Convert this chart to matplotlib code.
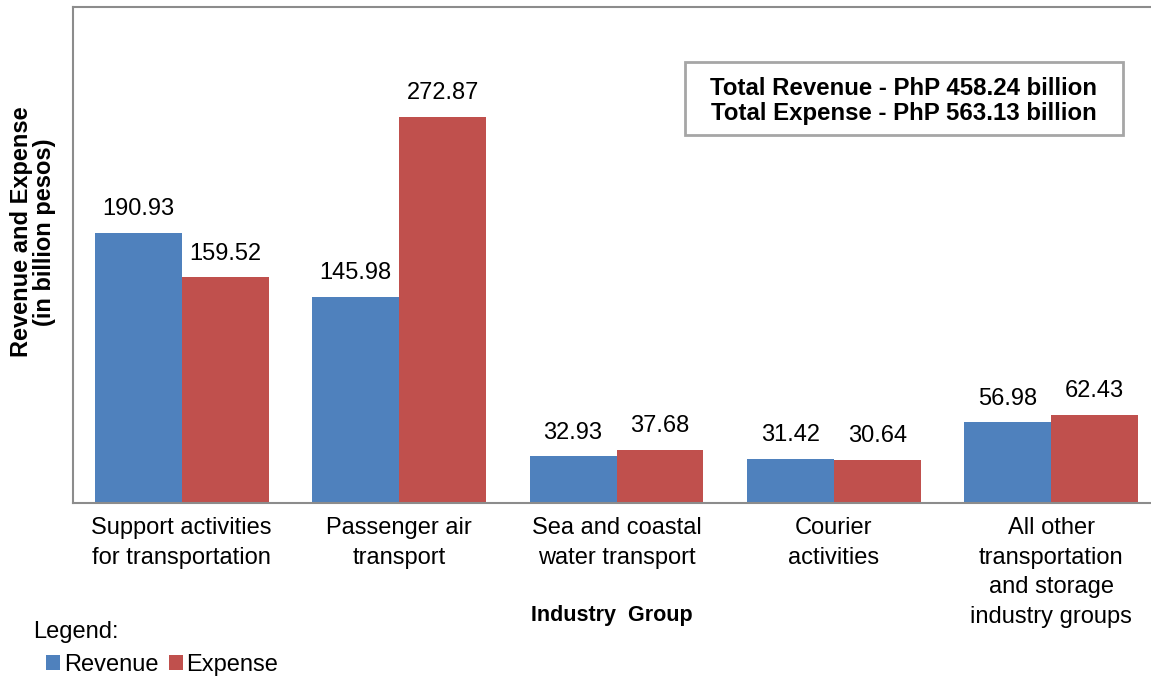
import matplotlib
matplotlib.use("Agg")
import matplotlib.pyplot as plt
from matplotlib.patches import Rectangle
import numpy as np

plt.rcParams['font.family'] = ['Liberation Sans', 'DejaVu Sans']

categories = ["Support activities\nfor transportation", "Passenger air\ntransport",
              "Sea and coastal\nwater transport", "Courier\nactivities",
              "All other\ntransportation\nand storage\nindustry groups"]
revenue = [190.93, 145.98, 32.93, 31.42, 56.98]
expense = [159.52, 272.87, 37.68, 30.64, 62.43]
series_names = ["Revenue", "Expense"]
colors = ["#4F81BD", "#C0504D"]

W, H = 1151, 679
fig = plt.figure(figsize=(W/100, H/100), dpi=100)
left, right, top, bottom = 73, 1160, 7, 503
ax = fig.add_axes([left/W, 1 - bottom/H, (right-left)/W, (bottom-top)/H])

x = np.arange(len(categories))
bw = 0.4
b1 = ax.bar(x - bw/2, revenue, bw, color=colors[0], label=series_names[0])
b2 = ax.bar(x + bw/2, expense, bw, color=colors[1], label=series_names[1])

for xi, v in zip(x - bw/2, revenue):
    ax.annotate(f"{v:.2f}", (xi, v), xytext=(0, 17), textcoords="offset points",
                ha="center", va="center", fontsize=17)
for xi, v in zip(x + bw/2, expense):
    ax.annotate(f"{v:.2f}", (xi, v), xytext=(0, 17), textcoords="offset points",
                ha="center", va="center", fontsize=17)

ax.set_xlim(-0.5, 4.5)
ax.set_ylim(0, 350.7)
ax.set_yticks([])
ax.set_xticks(x)
ax.set_xticklabels(categories, fontsize=17, linespacing=1.45)
ax.tick_params(axis='x', length=0, pad=10)
for s in ['left', 'top', 'bottom']:
    ax.spines[s].set_color('#8C8C8C')
    ax.spines[s].set_linewidth(1.5)
ax.spines['right'].set_visible(False)

fig.text(33/W, 1 - 232/H, "Revenue and Expense\n(in billion pesos)", rotation=90,
         ha="center", va="center", fontsize=17, fontweight="bold", linespacing=1.05)
fig.text(612/W, 1 - 615/H, "Industry  Group", ha="center", va="center",
         fontsize=15.5, fontweight="bold")

fig.text(33/W, 1 - 632/H, "Legend:", ha="left", va="center", fontsize=17)
fig.legend(handles=[b1, b2], labels=series_names,
           loc="center left", bbox_to_anchor=(46/W, 1 - 665/H), ncol=2, frameon=False,
           fontsize=17, handlelength=0.6, handleheight=0.6, handletextpad=0.15,
           columnspacing=0.45, borderaxespad=0, borderpad=0)

bx0, bx1, by0, by1 = 685, 1123, 62, 135
fig.patches.append(Rectangle((bx0/W, 1 - by1/H), (bx1-bx0)/W, (by1-by0)/H,
                             transform=fig.transFigure, facecolor="white",
                             edgecolor="#A6A6A6", linewidth=2, zorder=5))
fig.text(904/W, 1 - 101/H, "Total Revenue - PhP 458.24 billion\nTotal Expense - PhP 563.13 billion",
         ha="center", va="center", fontsize=17.3, fontweight="bold", linespacing=1.1, zorder=6)

fig.savefig("out.png", dpi=100)
